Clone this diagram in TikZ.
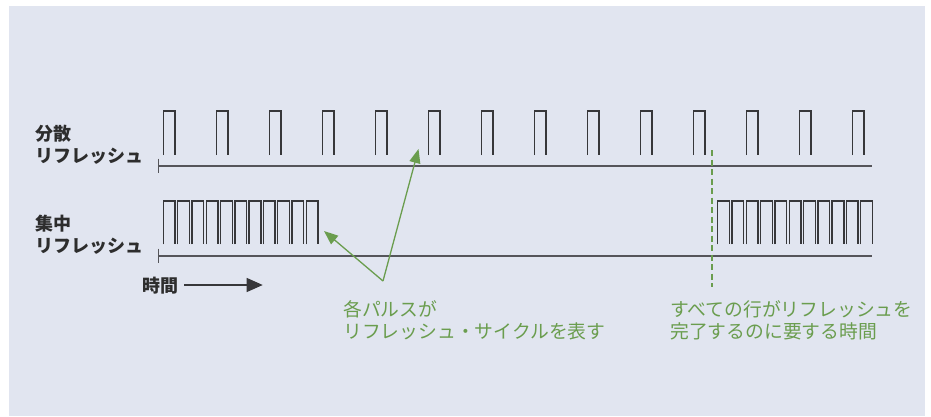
\documentclass[tikz,border=0pt]{standalone}
\usepackage{fontspec}
\setmainfont{Noto Sans CJK JP}
\usetikzlibrary{arrows.meta}
\definecolor{bg}{RGB}{225,229,240}
\definecolor{pulsec}{RGB}{55,55,58}
\definecolor{basec}{RGB}{85,85,90}
\definecolor{grn}{RGB}{106,157,78}
\definecolor{lbl}{RGB}{45,45,45}
\tikzset{
  pulseline/.style={draw=pulsec, line width=1.4pt, line join=miter},
  baseline/.style={draw=basec, line width=2pt},
  blacklbl/.style={inner sep=0pt, anchor=base west, text=lbl, font=\fontsize{18}{22}\selectfont\bfseries},
  greenlbl/.style={inner sep=0pt, anchor=base west, text=grn, font=\fontsize{18.8}{22}\selectfont},
  grnarrow/.style={draw=grn, line width=1.3pt, -{Triangle[length=14pt,width=11pt]}},
}
\begin{document}
\begin{tikzpicture}[x=1pt,y=-1pt]
\useasboundingbox (0,0) rectangle (931,416);
\fill[bg] (9,6) rectangle (925,416);

% distributed refresh
\foreach \i in {0,...,13}{
  \pgfmathsetmacro{\xa}{163.3+53*\i}
  \draw[pulseline] (\xa,155) -- (\xa,111) -- (\xa+11.5,111) -- (\xa+11.5,155);
}
\draw[baseline] (158.3,165.7) -- (871.7,165.7);
\draw[draw=basec, line width=1.2pt] (158.3,158.5) -- (158.3,172.5);

% centralized refresh
\foreach \j in {0,...,10}{
  \pgfmathsetmacro{\xa}{163.3+14.3*\j}
  \draw[pulseline] (\xa,244.3) -- (\xa,201) -- (\xa+11.7,201) -- (\xa+11.7,244.3);
  \pgfmathsetmacro{\xb}{717.7+14.3*\j}
  \draw[pulseline] (\xb,244.3) -- (\xb,201) -- (\xb+11.7,201) -- (\xb+11.7,244.3);
}
\draw[baseline] (158.3,255.7) -- (871.7,255.7);
\draw[draw=basec, line width=1.2pt] (158.3,248.5) -- (158.3,262.5);

% labels
\node[blacklbl] (l1a) at (35,140) {分散};
\node[blacklbl] (l1b) at (35,162) {リフレッシュ};
\node[blacklbl] (l2a) at (35,230) {集中};
\node[blacklbl] (l2b) at (35,252.5) {リフレッシュ};
\node[blacklbl] (time) at (142,292) {時間};
\coordinate (ts) at (184.3,285);
\coordinate (te) at (262.7,285);
\draw[draw=pulsec, line width=1.2pt, -{Triangle[length=16pt,width=14pt]}] (ts) -- (te);

% dashed marker
\coordinate (dtop) at (712,150);
\coordinate (dbot) at (712,287);
\draw[draw=grn, line width=1.3pt, dash pattern=on 6pt off 3.5pt] (dtop) -- (dbot);

% green arrows
\coordinate (apex) at (383,281);
\coordinate (tip1) at (324,231);
\coordinate (tip2) at (418.5,149);
\draw[grnarrow] (apex) -- (tip1);
\draw[grnarrow] (apex) -- (tip2);

% green texts
\node[greenlbl] (g1a) at (343,316) {各パルスが};
\node[greenlbl] (g1b) at (343,338.5) {リフレッシュ・サイクルを表す};
\node[greenlbl] (g2a) at (670,316) {すべての行がリフレッシュを};
\node[greenlbl] (g2b) at (670,338.5) {完了するのに要する時間};
\end{tikzpicture}
\end{document}
